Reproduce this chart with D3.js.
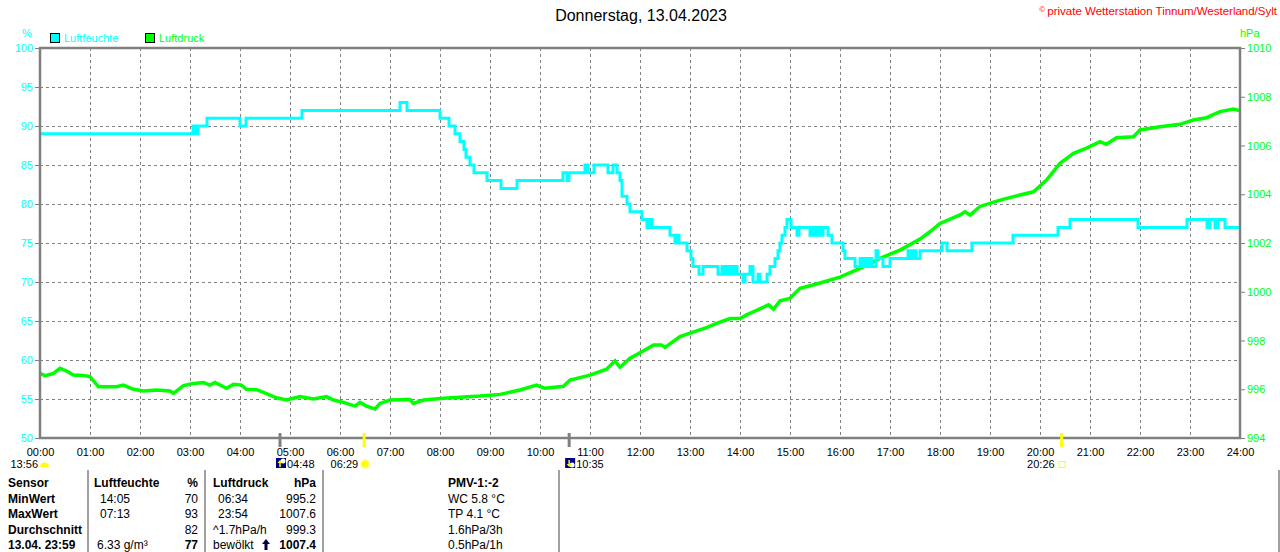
<!DOCTYPE html>
<html>
<head>
<meta charset="utf-8" />
<script src="https://d3js.org/d3.v7.min.js"></script>
<title>Donnerstag, 13.04.2023</title>
<style>
  body { margin: 0; background: #fff; }
  svg { display: block; font-family: "Liberation Sans", Arial, sans-serif; }
</style>
</head>
<body>
<svg id="chart"></svg>
<script>
// ---- data ----
var title = "Donnerstag, 13.04.2023";
var copyright = "private Wetterstation Tinnum/Westerland/Sylt";
var seriesNames = ["Luftfeuchte", "Luftdruck"];

var hourLabels = d3.range(0, 25).map(function(h) { return (h < 10 ? "0" + h : "" + h) + ":00"; });
var humTicks = d3.range(50, 101, 5);
var presTicks = d3.range(994, 1011, 2);

// humidity in %, [hour, value], steps
var humidity = [
  [0, 89], [3.06, 90], [3.12, 89], [3.16, 90], [3.34, 91], [4.0, 90], [4.12, 91],
  [5.24, 92], [7.2, 93], [7.34, 92], [8.0, 91], [8.18, 90], [8.3, 89], [8.4, 88],
  [8.48, 87], [8.52, 86], [8.6, 85], [8.68, 84], [8.94, 83], [9.22, 82], [9.54, 83],
  [10.46, 84], [10.54, 83], [10.58, 84], [10.9, 85], [10.96, 84], [11.08, 85],
  [11.36, 84], [11.46, 85], [11.54, 84], [11.6, 83], [11.64, 81], [11.74, 80],
  [11.8, 79], [12.04, 78], [12.14, 77], [12.2, 78], [12.24, 77], [12.6, 76],
  [12.7, 75], [12.74, 76], [12.78, 75], [12.94, 74], [13.02, 73], [13.06, 72],
  [13.18, 71], [13.26, 72], [13.56, 71], [13.64, 72], [13.7, 71], [13.76, 72],
  [13.82, 71], [13.88, 72], [13.94, 71], [14.06, 70], [14.1, 71], [14.2, 72],
  [14.26, 70], [14.36, 71], [14.4, 70], [14.54, 71], [14.6, 72], [14.7, 73],
  [14.76, 74], [14.8, 75], [14.84, 76], [14.9, 77], [14.94, 78], [15.02, 77],
  [15.14, 76], [15.18, 77], [15.4, 76], [15.46, 77], [15.5, 76], [15.56, 77],
  [15.62, 76], [15.66, 77], [15.76, 76], [15.84, 75], [16.06, 74], [16.1, 73],
  [16.3, 72], [16.4, 73], [16.44, 72], [16.5, 73], [16.54, 72], [16.6, 73],
  [16.64, 72], [16.72, 74], [16.76, 73], [16.86, 72], [17.0, 73], [17.36, 74],
  [17.42, 73], [17.48, 74], [17.52, 73], [17.6, 74], [18.04, 75], [18.14, 74],
  [18.64, 75], [19.46, 76], [20.36, 77], [20.6, 78], [21.96, 77], [22.94, 78],
  [23.34, 77], [23.4, 78], [23.5, 77], [23.56, 78], [23.7, 77], [24, 77]
];

// air pressure in hPa, [hour, value]
var pressure = [
  [0, 996.65], [0.1, 996.56], [0.27, 996.65], [0.4, 996.86], [0.53, 996.75],
  [0.67, 996.58], [0.87, 996.56], [1.0, 996.52], [1.17, 996.1], [1.53, 996.1],
  [1.67, 996.17], [1.87, 996.0], [2.07, 995.93], [2.33, 995.97], [2.6, 995.93],
  [2.67, 995.83], [2.87, 996.15], [3.07, 996.24], [3.27, 996.28], [3.4, 996.17],
  [3.5, 996.28], [3.73, 996.04], [3.87, 996.2], [4.03, 996.17], [4.13, 996.0],
  [4.33, 995.98], [4.47, 995.87], [4.73, 995.65], [4.93, 995.56], [5.2, 995.7],
  [5.47, 995.6], [5.73, 995.7], [5.87, 995.56], [6.07, 995.46], [6.3, 995.31],
  [6.4, 995.46], [6.53, 995.31], [6.7, 995.19], [6.8, 995.42], [7.0, 995.56],
  [7.4, 995.58], [7.47, 995.42], [7.67, 995.56], [8.07, 995.63], [8.4, 995.67],
  [8.8, 995.72], [9.2, 995.79], [9.6, 995.97], [9.93, 996.17], [10.1, 996.04],
  [10.47, 996.12], [10.6, 996.38], [11.0, 996.58], [11.33, 996.82], [11.5, 997.16],
  [11.6, 996.9], [11.8, 997.27], [12.0, 997.5], [12.27, 997.82], [12.43, 997.82],
  [12.5, 997.72], [12.8, 998.16], [13.0, 998.3], [13.33, 998.53], [13.53, 998.7],
  [13.8, 998.9], [14.0, 998.9], [14.13, 999.05], [14.27, 999.18], [14.57, 999.46],
  [14.67, 999.28], [14.8, 999.63], [15.0, 999.73], [15.2, 1000.14], [15.53, 1000.32],
  [16.0, 1000.6], [16.4, 1000.96], [16.8, 1001.37], [17.2, 1001.71], [17.6, 1002.16],
  [17.8, 1002.46], [18.0, 1002.8], [18.4, 1003.15], [18.5, 1003.28], [18.6, 1003.15],
  [18.8, 1003.5], [19.2, 1003.76], [19.6, 1003.97], [19.87, 1004.1], [20.13, 1004.58],
  [20.4, 1005.27], [20.67, 1005.68], [20.93, 1005.89], [21.2, 1006.16], [21.33, 1006.05],
  [21.53, 1006.32], [21.87, 1006.36], [22.0, 1006.64], [22.4, 1006.77], [22.8, 1006.87],
  [23.07, 1007.05], [23.33, 1007.14], [23.6, 1007.39], [23.87, 1007.5], [24.0, 1007.42]
];

// sun / moon times
var events = [
  { label: "13:56", hour: 0, kind: "moon" },
  { label: "04:48", hour: 4.8, kind: "moonrise" },
  { label: "06:29", hour: 6.483, kind: "sunrise" },
  { label: "10:35", hour: 10.583, kind: "moonset" },
  { label: "20:26", hour: 20.433, kind: "sunset" }
];

// bottom table
var tableRows = [
  ["Sensor", "Luftfeuchte", "%", "Luftdruck", "hPa", "PMV-1:-2"],
  ["MinWert", "14:05", "70", "06:34", "995.2", "WC 5.8 °C"],
  ["MaxWert", "07:13", "93", "23:54", "1007.6", "TP 4.1 °C"],
  ["Durchschnitt", "", "82", "^1.7hPa/h", "999.3", "1.6hPa/3h"],
  ["13.04. 23:59", "6.33 g/m³", "77", "bewölkt", "1007.4", "0.5hPa/1h"]
];

// ---- layout ----
var width = 1280, height = 552;
var margin = { top: 48, right: 40, bottom: 114, left: 40 };
var gray = "#808080", cyan = "#00ffff", green = "#00ff00";

var svg = d3.select("#chart").attr("width", width).attr("height", height);

var x = d3.scaleLinear().domain([0, 24]).range([margin.left, width - margin.right]);
var yL = d3.scaleLinear().domain([50, 100]).range([height - margin.bottom, margin.top]);
var yR = d3.scaleLinear().domain([994, 1010]).range([height - margin.bottom, margin.top]);

// grid
var grid = svg.append("g");
grid.selectAll(".vg").data(d3.range(1, 24)).enter().append("line")
  .attr("x1", function(d) { return x(d) + 0.5; }).attr("x2", function(d) { return x(d) + 0.5; })
  .attr("y1", yL(100)).attr("y2", yL(50))
  .attr("stroke", gray).attr("stroke-dasharray", "3,3");
grid.selectAll(".hg").data(humTicks.slice(1, -1)).enter().append("line")
  .attr("x1", x(0)).attr("x2", x(24))
  .attr("y1", function(d) { return yL(d) + 0.5; }).attr("y2", function(d) { return yL(d) + 0.5; })
  .attr("stroke", gray).attr("stroke-dasharray", "3,3");

// lines
var clip = svg.append("clipPath").attr("id", "clip").append("rect")
  .attr("x", x(0)).attr("y", yL(100)).attr("width", x(24) - x(0)).attr("height", yL(50) - yL(100));

var humLine = d3.line().x(function(d) { return x(d[0]); }).y(function(d) { return yL(d[1]); })
  .curve(d3.curveStepAfter);
var presLine = d3.line().x(function(d) { return x(d[0]); }).y(function(d) { return yR(d[1]); });

svg.append("path").datum(pressure).attr("d", presLine)
  .attr("fill", "none").attr("stroke", green).attr("stroke-width", 3.5)
  .attr("clip-path", "url(#clip)");
svg.append("path").datum(humidity).attr("d", humLine)
  .attr("fill", "none").attr("stroke", cyan).attr("stroke-width", 3)
  .attr("clip-path", "url(#clip)");

// frame
svg.append("rect").attr("x", x(0)).attr("y", yL(100))
  .attr("width", x(24) - x(0)).attr("height", yL(50) - yL(100))
  .attr("fill", "none").attr("stroke", gray).attr("stroke-width", 2.5);

// axes
var axL = svg.append("g").attr("transform", "translate(" + x(0) + ",0)")
  .call(d3.axisLeft(yL).tickValues(humTicks).tickSize(5).tickPadding(2));
axL.selectAll("text").attr("fill", cyan).style("font-size", "11px");

var axR = svg.append("g").attr("transform", "translate(" + x(24) + ",0)")
  .call(d3.axisRight(yR).tickValues(presTicks).tickSize(5).tickPadding(2).tickFormat(d3.format("d")));
axR.selectAll("text").attr("fill", green).style("font-size", "11px");

var axB = svg.append("g").attr("transform", "translate(0," + yL(50) + ")")
  .call(d3.axisBottom(x).tickValues(d3.range(0, 25)).tickSize(0).tickPadding(10)
    .tickFormat(function(d) { return hourLabels[d]; }));
axB.selectAll("text").attr("fill", "#000").style("font-size", "11px");

[axL, axR, axB].forEach(function(a) {
  a.select(".domain").remove();
  a.selectAll("line").attr("stroke", gray);
});

// units
svg.append("text").attr("x", 27).attr("y", 37).attr("text-anchor", "middle")
  .attr("fill", cyan).style("font-size", "11px").text("%");
svg.append("text").attr("x", 1240).attr("y", 37)
  .attr("fill", green).style("font-size", "11px").text("hPa");

// legend
var legend = svg.append("g");
[cyan, green].forEach(function(c, i) {
  var lx = 50 + i * 95;
  legend.append("rect").attr("x", lx + 0.5).attr("y", 33.5).attr("width", 9).attr("height", 9)
    .attr("fill", c).attr("stroke", "#000");
  legend.append("text").attr("x", lx + 14).attr("y", 42).attr("fill", c)
    .style("font-size", "11px").text(seriesNames[i]);
});

// title and copyright
svg.append("text").attr("x", 641).attr("y", 21).attr("text-anchor", "middle")
  .style("font-size", "16px").attr("fill", "#000").text(title);
var cp = svg.append("text").attr("x", 1277).attr("y", 15).attr("text-anchor", "end")
  .attr("fill", "#ff0000").style("font-size", "11.5px");
cp.append("tspan").style("font-size", "8px").attr("dy", -3).text("© ");
cp.append("tspan").attr("dy", 3).text(copyright);

// sun / moon markers
var ev = svg.append("g");
events.forEach(function(e) {
  var ex = x(e.hour);
  var tickColor = (e.kind == "sunrise" || e.kind == "sunset") ? "#ffff00" : gray;
  if (e.hour > 0) {
    ev.append("line").attr("x1", ex).attr("x2", ex).attr("y1", 433).attr("y2", 447)
      .attr("stroke", tickColor).attr("stroke-width", 3);
  }
  var labelRight = (e.kind == "moonrise" || e.kind == "moonset");
  var t = ev.append("text").attr("y", 468).style("font-size", "11px").attr("fill", "#000").text(e.label);
  if (e.kind == "moon") {
    t.attr("x", 38).attr("text-anchor", "end");
    ev.append("path").attr("d", "M40,467 A4.5,4.5 0 0 1 49,467 Z").attr("fill", "#ffff00");
  } else if (labelRight) {
    t.attr("x", ex + 7);
    ev.append("rect").attr("x", ex - 4).attr("y", 458).attr("width", 10).attr("height", 10).attr("fill", "#000080");
    ev.append("circle").attr("cx", ex + 3).attr("cy", e.kind == "moonrise" ? 461 : 465).attr("r", 2.5).attr("fill", "#fff");
    var ay = e.kind == "moonrise" ? [467, 461] : [460, 466];
    ev.append("line").attr("x1", ex).attr("x2", ex).attr("y1", ay[0]).attr("y2", ay[1])
      .attr("stroke", "#ffff00").attr("stroke-width", 1.5);
    ev.append("path").attr("d", e.kind == "moonrise"
        ? "M" + (ex - 2.5) + ",463 L" + ex + ",460 L" + (ex + 2.5) + ",463 Z"
        : "M" + (ex - 2.5) + ",464 L" + ex + ",467 L" + (ex + 2.5) + ",464 Z")
      .attr("fill", "#ffff00");
  } else if (e.kind == "sunrise") {
    t.attr("x", ex - 6).attr("text-anchor", "end");
    ev.append("circle").attr("cx", ex + 1).attr("cy", 464).attr("r", 5).attr("fill", "#ffff99");
    ev.append("circle").attr("cx", ex + 1).attr("cy", 464).attr("r", 3.5).attr("fill", "#ffff00");
  } else {
    t.attr("x", ex - 7).attr("text-anchor", "end");
    ev.append("rect").attr("x", ex - 2.5).attr("y", 461.5).attr("width", 6).attr("height", 6)
      .attr("fill", "none").attr("stroke", "#ffff00");
  }
});

// table
var tbl = svg.append("g");
[88, 205, 323, 559, 1279].forEach(function(vx) {
  tbl.append("line").attr("x1", vx).attr("x2", vx).attr("y1", 470).attr("y2", height)
    .attr("stroke", "#a0a0a0").attr("stroke-width", 2);
});
var cols = [
  { x: 8, anchor: "start" },
  { x: 100, anchor: "start" },
  { x: 198, anchor: "end" },
  { x: 218, anchor: "start" },
  { x: 316, anchor: "end" },
  { x: 448, anchor: "start" }
];
var rowY = function(r) { return 487 + r * 15.5; };
tableRows.forEach(function(row, r) {
  row.forEach(function(cell, c) {
    var cx = cols[c].x;
    if (r == 0 && (c == 1 || c == 3)) cx = c == 1 ? 94 : 213;
    if (c == 3 && (r == 3 || r == 4)) cx = 213;
    if (c == 1 && r == 4) cx = 97;
    var bold = (c == 0) || (r == 0) || (r == 4 && (c == 2 || c == 4));
    tbl.append("text").attr("x", cx).attr("y", rowY(r))
      .attr("text-anchor", cols[c].anchor).attr("fill", "#000")
      .style("font-size", "12px").style("font-weight", bold ? "bold" : "normal")
      .text(cell);
  });
});
// trend arrow before the current pressure
var ay0 = rowY(4);
tbl.append("path")
  .attr("d", "M266," + (ay0 - 10) + " L270," + (ay0 - 5) + " L267.5," + (ay0 - 5) +
    " L267.5," + (ay0 + 1) + " L264.5," + (ay0 + 1) + " L264.5," + (ay0 - 5) + " L262," + (ay0 - 5) + " Z")
  .attr("fill", "#000040");
</script>
</body>
</html>
